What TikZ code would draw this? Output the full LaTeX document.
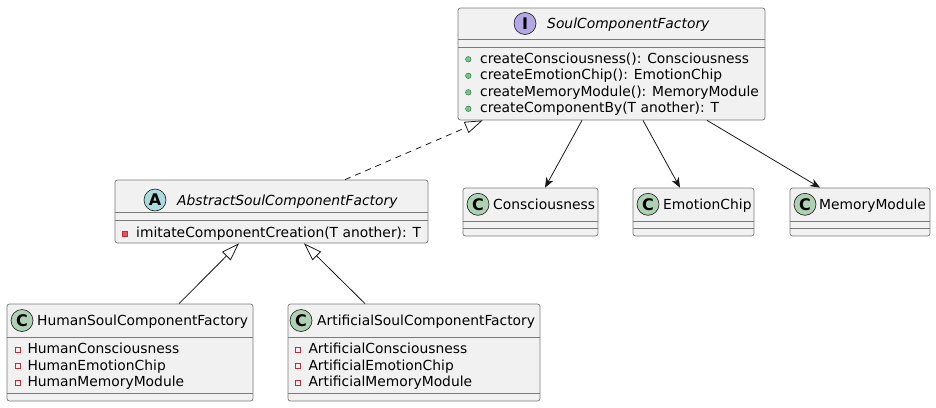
\documentclass[tikz,border=0pt]{standalone}
\usepackage{fontspec}
\setmainfont{DejaVu Sans}
\usetikzlibrary{arrows.meta}
\definecolor{boxfill}{HTML}{F1F1F1}
\definecolor{boxline}{HTML}{181818}
\definecolor{boxedge}{HTML}{7A7A7A}
\definecolor{classc}{HTML}{ADD1B2}
\definecolor{ifacec}{HTML}{B4A7E5}
\definecolor{absc}{HTML}{A9DCDF}
\definecolor{pubfill}{HTML}{84BE84}
\definecolor{publine}{HTML}{038048}
\definecolor{privfill}{HTML}{F24D5C}
\definecolor{privline}{HTML}{C82930}
\tikzset{
  classbox/.style={draw=boxedge, fill=boxfill, rounded corners=2.5pt, line width=0.7pt, inner sep=0pt},
  sepline/.style={draw=boxedge, line width=0.7pt},
  icon/.style={circle, draw=boxline, line width=0.6pt, minimum size=22pt, inner sep=0pt, font=\fontsize{16}{16}\selectfont\bfseries},
  txt/.style={anchor=base west, inner sep=0pt, font=\fontsize{13.85}{16}\selectfont},
  itxt/.style={txt, font=\fontsize{13.85}{16}\selectfont\itshape},
  pubicon/.style={circle, draw=publine, fill=pubfill, line width=0.4pt, minimum size=5.6pt, inner sep=0pt},
  privm/.style={rectangle, draw=privline, fill=privfill, line width=0.4pt, minimum size=5pt, inner sep=0pt},
  privf/.style={rectangle, draw=privline, fill=none, line width=0.6pt, minimum size=5pt, inner sep=0pt},
  dep/.style={draw=boxline, line width=0.8pt, -{Stealth[length=10pt, width=8pt, inset=3pt]}},
  inh/.style={draw=boxline, line width=0.8pt, -{Triangle[open, length=18pt, width=12pt, fill=white]}},
  real/.style={inh, dash pattern=on 6pt off 5pt},
}
\begin{document}
\begin{tikzpicture}[x=1pt, y=-1pt]
\useasboundingbox (0,0) rectangle (936,407);

% SoulComponentFactory
\node[classbox, minimum width=307pt, minimum height=112pt] (soul) at (611.5,64) {};
\draw[sepline] (soul.west |- 0,39) -- (soul.east |- 0,39);
\draw[sepline] (soul.west |- 0,47) -- (soul.east |- 0,47);
\node[icon, fill=ifacec] (soulicon) at (525,23.5) {I};
\node[itxt] (soulname) at (547,28.5) {SoulComponentFactory};
\node[pubicon] (sp1) at (468.3,59.3) {};
\node[txt] (sm1) at (480,63.3) {createConsciousness(): Consciousness};
\node[pubicon] (sp2) at (468.3,75.8) {};
\node[txt] (sm2) at (480,79.8) {createEmotionChip(): EmotionChip};
\node[pubicon] (sp3) at (468.3,92.3) {};
\node[txt] (sm3) at (480,96.3) {createMemoryModule(): MemoryModule};
\node[pubicon] (sp4) at (468.3,108.8) {};
\node[txt] (sm4) at (480,112.8) {createComponentBy(T another): T};

% AbstractSoulComponentFactory
\node[classbox, minimum width=313pt, minimum height=63pt] (abs) at (271.5,211.5) {};
\draw[sepline] (abs.west |- 0,212) -- (abs.east |- 0,212);
\draw[sepline] (abs.west |- 0,220) -- (abs.east |- 0,220);
\node[icon, fill=absc] (absicon) at (155,200) {A};
\node[itxt] (absname) at (177,205) {AbstractSoulComponentFactory};
\node[privm] (ap1) at (125,233.5) {};
\node[txt] (am1) at (136,237.5) {imitateComponentCreation(T another): T};

% Consciousness
\node[classbox, minimum width=135pt, minimum height=48pt] (cons) at (530.5,212) {};
\draw[sepline] (cons.west |- 0,221) -- (cons.east |- 0,221);
\draw[sepline] (cons.west |- 0,228.5) -- (cons.east |- 0,228.5);
\node[icon, fill=classc] (consicon) at (478,204.3) {C};
\node[txt] (consname) at (493,209.3) {Consciousness};

% EmotionChip
\node[classbox, minimum width=121pt, minimum height=48pt] (emo) at (693.5,212) {};
\draw[sepline] (emo.west |- 0,221) -- (emo.east |- 0,221);
\draw[sepline] (emo.west |- 0,228.5) -- (emo.east |- 0,228.5);
\node[icon, fill=classc] (emoicon) at (648,204.3) {C};
\node[txt] (emoname) at (663,209.3) {EmotionChip};

% MemoryModule
\node[classbox, minimum width=140pt, minimum height=48pt] (mem) at (860,212) {};
\draw[sepline] (mem.west |- 0,221) -- (mem.east |- 0,221);
\draw[sepline] (mem.west |- 0,228.5) -- (mem.east |- 0,228.5);
\node[icon, fill=classc] (memicon) at (805,204.3) {C};
\node[txt] (memname) at (819,209.3) {MemoryModule};

% HumanSoulComponentFactory
\node[classbox, minimum width=246pt, minimum height=97pt] (human) at (130,352.5) {};
\draw[sepline] (human.west |- 0,337) -- (human.east |- 0,337);
\draw[sepline] (human.west |- 0,393) -- (human.east |- 0,393);
\node[icon, fill=classc] (humanicon) at (22,320.5) {C};
\node[txt] (humanname) at (37,325.7) {HumanSoulComponentFactory};
\node[privf] (hp1) at (17.5,349.7) {};
\node[txt] (hf1) at (27.3,353.5) {HumanConsciousness};
\node[privf] (hp2) at (17.5,366.2) {};
\node[txt] (hf2) at (27.3,370) {HumanEmotionChip};
\node[privf] (hp3) at (17.5,382.7) {};
\node[txt] (hf3) at (27.3,386.5) {HumanMemoryModule};

% ArtificialSoulComponentFactory
\node[classbox, minimum width=252pt, minimum height=97pt] (art) at (414,352.5) {};
\draw[sepline] (art.west |- 0,337) -- (art.east |- 0,337);
\draw[sepline] (art.west |- 0,393) -- (art.east |- 0,393);
\node[icon, fill=classc] (articon) at (301,320.5) {C};
\node[txt] (artname) at (317,325.7) {ArtificialSoulComponentFactory};
\node[privf] (ap1f) at (297.5,349.7) {};
\node[txt] (af1) at (308.3,353.5) {ArtificialConsciousness};
\node[privf] (ap2f) at (297.5,366.2) {};
\node[txt] (af2) at (308.3,370) {ArtificialEmotionChip};
\node[privf] (ap3f) at (297.5,382.7) {};
\node[txt] (af3) at (308.3,386.5) {ArtificialMemoryModule};

% connectors
\draw[real] ([xshift=73.5pt]abs.north) -- ([xshift=-128.8pt]soul.south);
\draw[dep] ([xshift=-29.5pt]soul.south) -- ([xshift=14.5pt]cons.north);
\draw[dep] ([xshift=31.5pt]soul.south) -- ([xshift=-13.5pt]emo.north);
\draw[dep] ([xshift=95.5pt]soul.south) -- ([xshift=-40pt]mem.north);
\draw[inh] ([xshift=49pt]human.north) -- ([xshift=-32.5pt]abs.south);
\draw[inh] ([xshift=-49pt]art.north) -- ([xshift=32.5pt]abs.south);
\end{tikzpicture}
\end{document}
